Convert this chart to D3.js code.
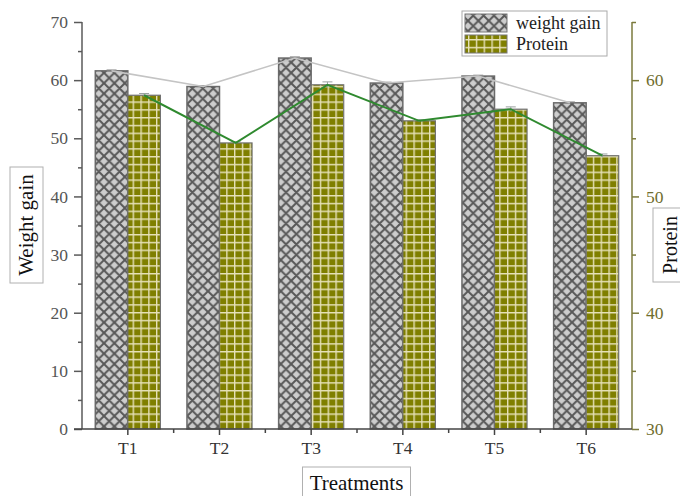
<!DOCTYPE html>
<html>
<head>
<meta charset="utf-8">
<script src="https://cdn.jsdelivr.net/npm/d3@7"></script>
<style>
  html, body { margin: 0; padding: 0; background: #fff; }
  svg { display: block; }
  text { font-family: "Liberation Serif", "Times New Roman", serif; }
</style>
</head>
<body>
<svg id="chart" width="680" height="496"></svg>
<script>
// Treatment groups and measured means
const categories = ["T1", "T2", "T3", "T4", "T5", "T6"];
const weightGain = [61.6, 58.9, 63.8, 59.5, 60.7, 56.1];
const weightGainErr = [0.15, 0.15, 0.2, 0.15, 0.15, 0.15];
const protein = [58.7, 54.6, 59.6, 56.5, 57.5, 53.5];
const proteinErr = [0.15, 0.1, 0.25, 0.1, 0.2, 0.15];
const leftTicks = [0, 10, 20, 30, 40, 50, 60, 70];
const rightTicks = [30, 40, 50, 60];
const seriesNames = ["weight gain", "Protein"];

const svg = d3.select("#chart");
const plot = { left: 82, right: 632, top: 22, bottom: 429 };

const x = d3.scaleBand().domain(categories).range([plot.left, plot.right]).padding(0);
const groupWidth = x.bandwidth() * 0.71;
const xSub = d3.scaleBand().domain([0, 1]).range([-groupWidth / 2, groupWidth / 2]).padding(0);
const yL = d3.scaleLinear().domain([0, 70]).range([plot.bottom, plot.top]);
const yR = d3.scaleLinear().domain([30, 65]).range([plot.bottom, plot.top]);

const axisGrey = "#5a5a5a";
const olive = "#7b7a3c";

// Fill patterns
const defs = svg.append("defs");
const hp = 10.4;
const hatch = defs.append("pattern").attr("id", "hatch")
  .attr("patternUnits", "userSpaceOnUse").attr("width", hp).attr("height", hp);
hatch.append("rect").attr("width", hp).attr("height", hp).attr("fill", "#cdcdcd");
hatch.append("path")
  .attr("d", `M0,0L${hp},${hp}M0,${hp}L${hp},0M-1,1L1,-1M${hp - 1},${hp + 1}L${hp + 1},${hp - 1}M-1,${hp - 1}L1,${hp + 1}M${hp - 1},-1L${hp + 1},1`)
  .attr("stroke", "#585858").attr("stroke-width", 2);

const gp = 7.8;
const grid = defs.append("pattern").attr("id", "grid")
  .attr("patternUnits", "userSpaceOnUse").attr("width", gp).attr("height", gp);
grid.append("rect").attr("width", gp).attr("height", gp).attr("fill", "#7f7f00");
grid.append("path").attr("d", `M0,0.7H${gp}M0.7,0V${gp}`)
  .attr("stroke", "#e6e1b8").attr("stroke-width", 1.4);

// Bars
const cx = d => x(d) + x.bandwidth() / 2;

svg.append("g").selectAll("rect").data(categories).join("rect")
  .attr("x", (d) => cx(d) + xSub(0))
  .attr("y", (d, i) => yL(weightGain[i]))
  .attr("width", xSub.bandwidth())
  .attr("height", (d, i) => yL(0) - yL(weightGain[i]))
  .attr("fill", "url(#hatch)")
  .attr("stroke", "#6a6a6a").attr("stroke-width", 1.5);

svg.append("g").selectAll("rect").data(categories).join("rect")
  .attr("x", (d) => cx(d) + xSub(1))
  .attr("y", (d, i) => yR(protein[i]))
  .attr("width", xSub.bandwidth())
  .attr("height", (d, i) => yR(30) - yR(protein[i]))
  .attr("fill", "url(#grid)")
  .attr("stroke", "#707070").attr("stroke-width", 1.2);

// Error bars
function errorBars(vals, errs, scale, k, color) {
  const g = svg.append("g").attr("stroke", color).attr("stroke-width", 1);
  categories.forEach((c, i) => {
    const xm = cx(c) + xSub(k) + xSub.bandwidth() / 2;
    const y1 = scale(vals[i] + errs[i]), y0 = scale(vals[i] - errs[i]);
    g.append("line").attr("x1", xm).attr("x2", xm).attr("y1", y1).attr("y2", y0);
    g.append("line").attr("x1", xm - 5).attr("x2", xm + 5).attr("y1", y1).attr("y2", y1);
  });
}
errorBars(weightGain, weightGainErr, yL, 0, "#8a8a8a");
errorBars(protein, proteinErr, yR, 1, "#9aa0a0");

// Trend lines through bar tops
const wgLine = d3.line()
  .x((d, i) => cx(categories[i]) + xSub(0) + xSub.bandwidth() / 2)
  .y(d => yL(d));
const prLine = d3.line()
  .x((d, i) => cx(categories[i]) + xSub(1) + xSub.bandwidth() / 2)
  .y(d => yR(d));
svg.append("path").datum(weightGain).attr("d", wgLine)
  .attr("fill", "none").attr("stroke", "#c4c4c4").attr("stroke-width", 1.6);
svg.append("path").datum(protein).attr("d", prLine)
  .attr("fill", "none").attr("stroke", "#2f8a2f").attr("stroke-width", 2);

// Left axis
const leftAxis = svg.append("g").attr("transform", `translate(${plot.left},0)`);
leftAxis.call(d3.axisLeft(yL).tickValues(d3.range(5, 70, 10)).tickSize(4).tickFormat(""));
leftAxis.call(g => g.append("g").call(d3.axisLeft(yL).tickValues(leftTicks).tickSize(8).tickPadding(6)));
leftAxis.selectAll(".domain").remove();
leftAxis.append("line").attr("y1", plot.top).attr("y2", plot.bottom);
leftAxis.selectAll("line").attr("stroke", axisGrey).attr("stroke-width", 1.5);
leftAxis.selectAll("text").attr("font-size", 17.5).attr("fill", "#555")
  .attr("font-family", "Liberation Serif, serif");

// Right axis
const rightAxis = svg.append("g").attr("transform", `translate(${plot.right},0)`);
rightAxis.call(d3.axisRight(yR).tickValues([35, 45, 55, 65]).tickSize(4).tickFormat(""));
rightAxis.call(g => g.append("g").call(d3.axisRight(yR).tickValues(rightTicks).tickSize(7).tickPadding(7)));
rightAxis.selectAll(".domain").remove();
rightAxis.append("line").attr("y1", plot.top).attr("y2", plot.bottom);
rightAxis.selectAll("line").attr("stroke", olive).attr("stroke-width", 1.5);
rightAxis.selectAll("text").attr("font-size", 17.5).attr("fill", "#6f6d2e")
  .attr("font-family", "Liberation Serif, serif");

// Bottom axis
const bottomAxis = svg.append("g").attr("transform", `translate(0,${plot.bottom})`);
bottomAxis.call(d3.axisBottom(x).tickSize(6).tickPadding(7));
bottomAxis.selectAll(".domain").remove();
const bounds = categories.slice(1).map(c => x(c));
bottomAxis.append("g").selectAll("line").data(bounds).join("line")
  .attr("x1", d => d).attr("x2", d => d).attr("y1", 0).attr("y2", 4);
bottomAxis.append("line").attr("x1", plot.left - 8).attr("x2", plot.right);
bottomAxis.selectAll("line").attr("stroke", "#444").attr("stroke-width", 1.5);
bottomAxis.selectAll("text").attr("font-size", 17.5).attr("fill", "#333")
  .attr("font-family", "Liberation Serif, serif");

// Axis titles in framed boxes
function boxedTitle(text, tx, ty, rot, bw, bh, fs) {
  const g = svg.append("g").attr("transform", `translate(${tx},${ty}) rotate(${rot})`);
  g.append("rect").attr("x", -bw / 2).attr("y", -bh / 2).attr("width", bw).attr("height", bh)
    .attr("fill", "#fff").attr("stroke", "#b0b0b0").attr("stroke-width", 1);
  g.append("text").attr("text-anchor", "middle").attr("dy", "0.33em")
    .attr("font-size", fs).attr("fill", "#111").text(text);
}
boxedTitle("Weight gain", 26.5, 225, -90, 116, 33, 21);
boxedTitle("Protein", 670, 245, -90, 74, 34, 20);
boxedTitle("Treatments", 356.5, 483, 0, 108, 32, 21);

// Legend
const legend = svg.append("g");
legend.append("rect").attr("x", 462).attr("y", 11).attr("width", 145).attr("height", 45)
  .attr("fill", "#fff").attr("stroke", "#aaaaaa").attr("stroke-width", 1);
const fills = ["url(#hatch)", "url(#grid)"];
seriesNames.forEach((name, i) => {
  legend.append("rect").attr("x", 465).attr("y", 14 + i * 21).attr("width", 42).attr("height", 18)
    .attr("fill", fills[i]).attr("stroke", "#777").attr("stroke-width", 1);
  legend.append("text").attr("x", 516).attr("y", 23 + i * 21).attr("dy", "0.35em")
    .attr("font-size", 18).attr("fill", "#222").text(name);
});
</script>
</body>
</html>
